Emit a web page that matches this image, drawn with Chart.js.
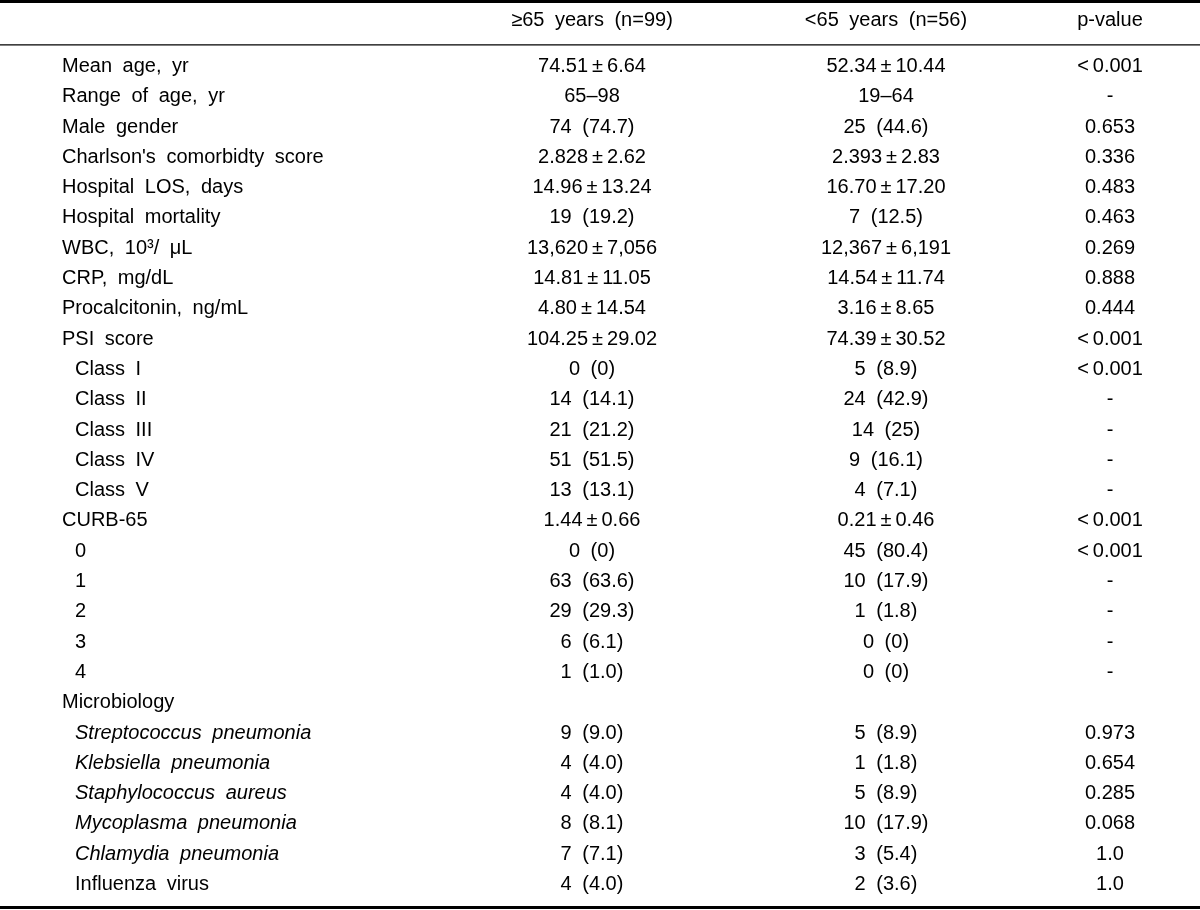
<!DOCTYPE html>
<html>
<head>
<meta charset="utf-8">
<script src="https://cdn.jsdelivr.net/npm/chart.js@4/dist/chart.umd.min.js"></script>
<style>
  html, body { margin: 0; padding: 0; background: #fff; }
  #wrap { width: 1200px; height: 910px; }
</style>
</head>
<body>
<div id="wrap"><canvas id="c" width="1200" height="910"></canvas></div>
<script>
// ---- table content ----
const headerLabels = ['≥65 years (n=99)', '<65 years (n=56)', 'p-value'];

const rowLabels = [
  'Mean age, yr', 'Range of age, yr', 'Male gender', "Charlson's comorbidty score",
  'Hospital LOS, days', 'Hospital mortality', 'WBC, 10³/ μL', 'CRP, mg/dL',
  'Procalcitonin, ng/mL', 'PSI score', 'Class I', 'Class II', 'Class III',
  'Class IV', 'Class V', 'CURB-65', '0', '1', '2', '3', '4', 'Microbiology',
  'Streptococcus pneumonia', 'Klebsiella pneumonia', 'Staphylococcus aureus',
  'Mycoplasma pneumonia', 'Chlamydia pneumonia', 'Influenza virus'
];

const rowIndent = [0,0,0,0,0,0,0,0,0,0,1,1,1,1,1,0,1,1,1,1,1,0,1,1,1,1,1,1];
const rowItalic = [0,0,0,0,0,0,0,0,0,0,0,0,0,0,0,0,0,0,0,0,0,0,1,1,1,1,1,0];

const olderValues = [
  '74.51±6.64', '65–98', '74 (74.7)', '2.828±2.62', '14.96±13.24', '19 (19.2)',
  '13,620±7,056', '14.81±11.05', '4.80±14.54', '104.25±29.02', '0 (0)', '14 (14.1)',
  '21 (21.2)', '51 (51.5)', '13 (13.1)', '1.44±0.66', '0 (0)', '63 (63.6)',
  '29 (29.3)', '6 (6.1)', '1 (1.0)', '', '9 (9.0)', '4 (4.0)', '4 (4.0)',
  '8 (8.1)', '7 (7.1)', '4 (4.0)'
];

const youngerValues = [
  '52.34±10.44', '19–64', '25 (44.6)', '2.393±2.83', '16.70±17.20', '7 (12.5)',
  '12,367±6,191', '14.54±11.74', '3.16±8.65', '74.39±30.52', '5 (8.9)', '24 (42.9)',
  '14 (25)', '9 (16.1)', '4 (7.1)', '0.21±0.46', '45 (80.4)', '10 (17.9)',
  '1 (1.8)', '0 (0)', '0 (0)', '', '5 (8.9)', '1 (1.8)', '5 (8.9)',
  '10 (17.9)', '3 (5.4)', '2 (3.6)'
];

const pValues = [
  '<0.001', '-', '0.653', '0.336', '0.483', '0.463', '0.269', '0.888', '0.444',
  '<0.001', '<0.001', '-', '-', '-', '-', '<0.001', '<0.001', '-', '-', '-', '-',
  '', '0.973', '0.654', '0.285', '0.068', '1.0', '1.0'
];

// ---- layout (scale units: x in px-units, y in row units) ----
const layout = {
  labelX: 62, indentX: 75,
  colX: [592, 886, 1110],
  headerRow: -1.52,
  topRule: -2.33, headRule: -0.895, bottomRule: 27.575
};

const FONT = '"Liberation Sans", Arial, "Noto Sans CJK KR", sans-serif';

// widen the ± and < signs a little, as in the typeset original
const typeset = t => t.replace(/±/g, '\u2009±\u2009').replace(/^</, '<\u2009');

const tablePlugin = {
  id: 'tableText',
  afterDraw(chart) {
    const ctx = chart.ctx;
    const xs = chart.scales.x, ys = chart.scales.y;
    const X = v => xs.getPixelForValue(v);
    const Y = v => ys.getPixelForValue(v);
    ctx.save();
    ctx.fillStyle = '#000';
    ctx.strokeStyle = '#000';
    // rules
    const rule = (v, w) => {
      ctx.lineWidth = w;
      ctx.beginPath();
      ctx.moveTo(X(0), Y(v));
      ctx.lineTo(X(1200), Y(v));
      ctx.stroke();
    };
    rule(layout.topRule, 3);
    rule(layout.headRule, 1.3);
    rule(layout.bottomRule, 3);

    ctx.textBaseline = 'alphabetic';
    if ('wordSpacing' in ctx) ctx.wordSpacing = '5px';
    // header
    ctx.font = '20px ' + FONT;
    ctx.textAlign = 'center';
    headerLabels.forEach((h, j) => ctx.fillText(h, X(layout.colX[j]), Y(layout.headerRow)));

    // rows
    rowLabels.forEach((lab, i) => {
      const y = Y(i);
      ctx.textAlign = 'left';
      ctx.font = (rowItalic[i] ? 'italic ' : '') + '20px ' + FONT;
      ctx.fillText(lab, X(rowIndent[i] ? layout.indentX : layout.labelX), y);
      ctx.font = '20px ' + FONT;
      ctx.textAlign = 'center';
      [olderValues[i], youngerValues[i], pValues[i]].forEach((t, j) => {
        if (t) ctx.fillText(typeset(t), X(layout.colX[j]), y);
      });
    });
    ctx.restore();
  }
};

new Chart(document.getElementById('c'), {
  type: 'scatter',
  data: { datasets: [{ data: [], pointRadius: 0 }] },
  options: {
    responsive: false,
    animation: false,
    devicePixelRatio: 1,
    layout: { padding: 0 },
    plugins: { legend: { display: false }, tooltip: { enabled: false } },
    scales: {
      x: { type: 'linear', min: 0, max: 1200, display: false },
      y: { type: 'linear', min: -2.376, max: 27.657, reverse: true, display: false }
    }
  },
  plugins: [tablePlugin]
});
</script>
</body>
</html>
